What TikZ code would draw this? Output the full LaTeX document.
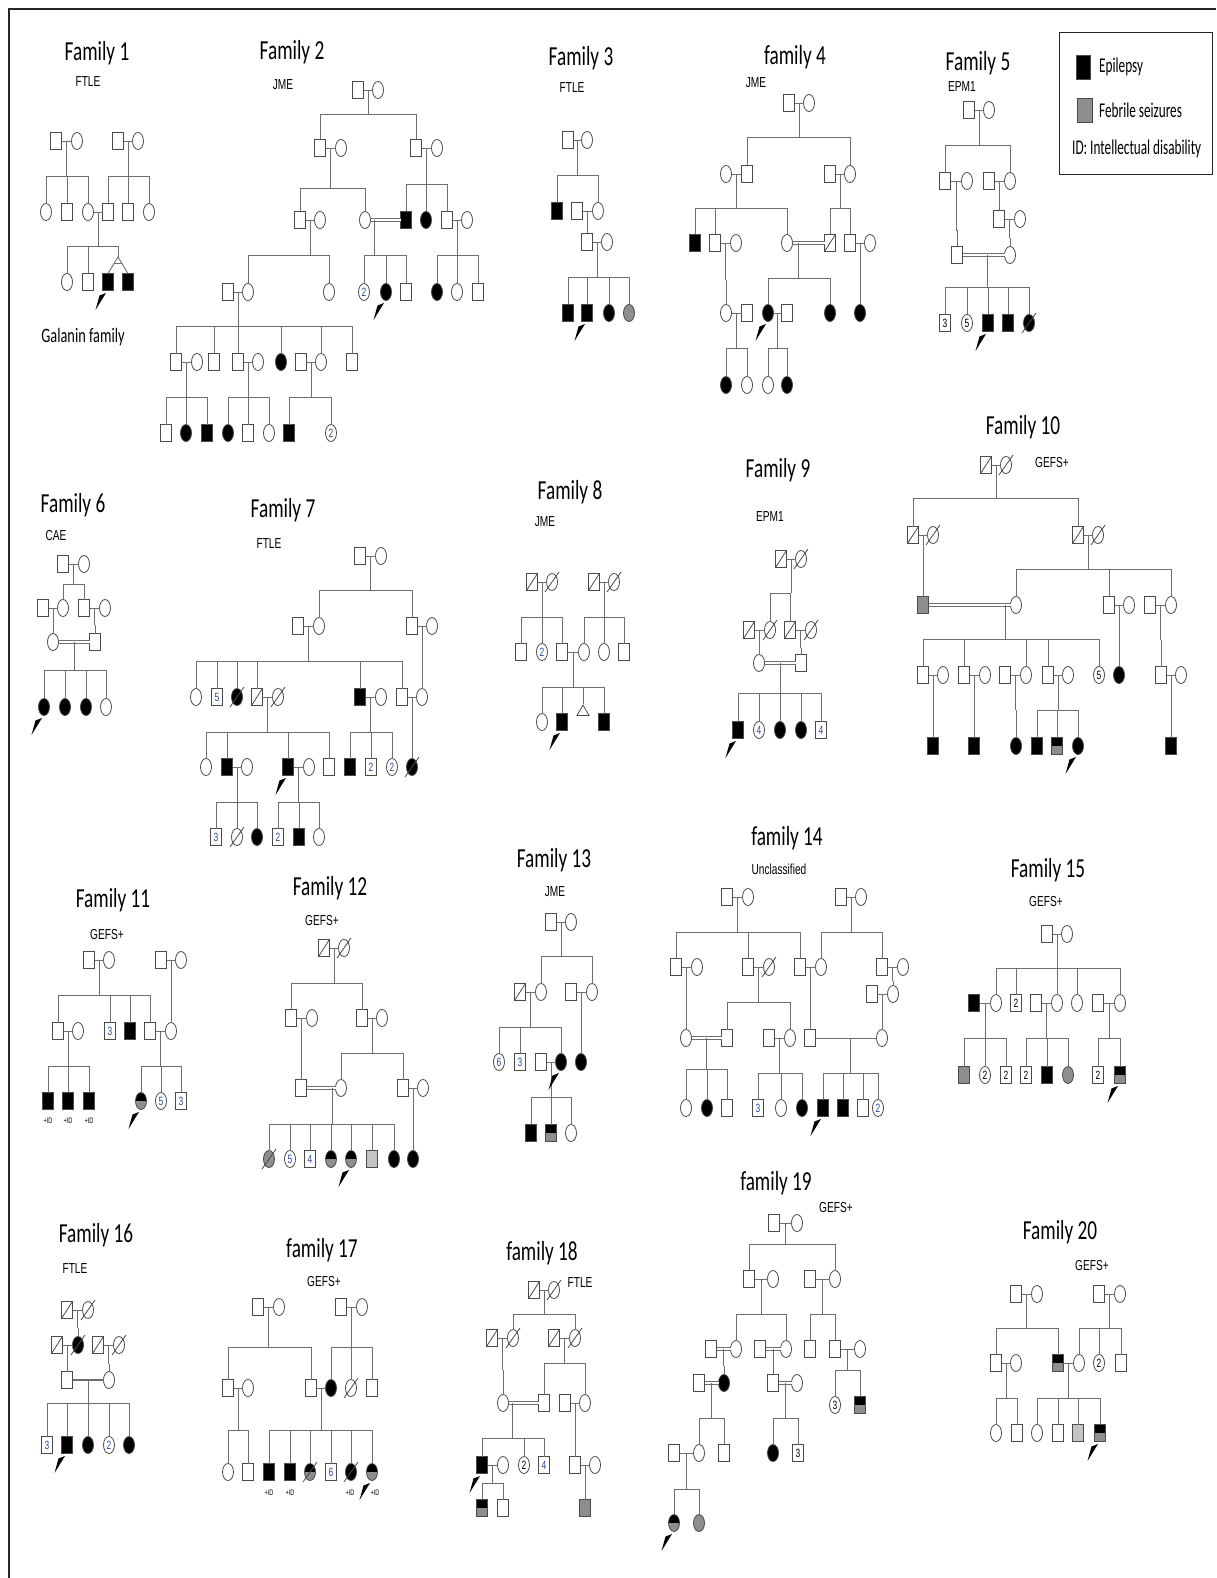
\documentclass[tikz,border=0pt]{standalone}
\usepackage{fontspec}
\setmainfont{Carlito}
\newfontfamily\ttlfont[FakeStretch=0.7]{Carlito}
\newfontfamily\legfont[FakeStretch=0.63]{Carlito}
\newfontfamily\subfnt[FakeStretch=0.7]{Liberation Sans}
\usetikzlibrary{calc,shapes.geometric}
\definecolor{lncol}{HTML}{6E6E6E}
\definecolor{symcol}{HTML}{4A4A4A}
\definecolor{fsgray}{HTML}{8E8E8E}
\definecolor{ltgray}{HTML}{C4C4C4}
\definecolor{numblue}{HTML}{2B4A9A}
\tikzset{
 ln/.style={draw=lncol,line width=0.9pt},
 dbl/.style={draw=lncol,line width=0.7pt,double=white,double distance=1.8pt},
 sym/.style={draw=symcol,line width=0.8pt,fill=white,inner sep=0pt,outer sep=0pt,
   minimum width=11pt,minimum height=17pt,font=\subfnt\fontsize{12}{12}\selectfont,text=numblue},
 male/.style={sym,rectangle},
 fem/.style={sym,ellipse},
 aff/.style={fill=black},
 febr/.style={fill=fsgray},
 lfebr/.style={fill=ltgray},
 numk/.style={text=black},
 halfaf/.style={path picture={
   \fill[fsgray] (path picture bounding box.south west) rectangle (path picture bounding box.east);
   \fill[black] (path picture bounding box.west) rectangle (path picture bounding box.north east);}},
 ttl/.style={font=\ttlfont\fontsize{27.5}{30}\selectfont,inner sep=0pt},
 sub/.style={font=\subfnt\fontsize{14.5}{15}\selectfont,inner sep=0pt},
 idl/.style={font=\subfnt\fontsize{8}{8}\selectfont,inner sep=0pt},
 legtxt/.style={font=\legfont\fontsize{21}{22}\selectfont,inner sep=0pt,anchor=west},
 tri/.style={draw=symcol,line width=0.8pt,fill=white,regular polygon,regular polygon sides=3,minimum size=14pt,inner sep=0pt}
}
\newcommand\kids[5][.5]{%
  \coordinate (dsc) at ($(#2)!#1!(#3)$);
  \draw[ln] (dsc) -- (dsc |- 0,#4);
  \foreach \c in {#5}{\draw[ln] (dsc |- 0,#4) -| (\c.north);}%
}
\newcommand\cpl[2]{\draw[ln] (#1) -- (#2);}
\newcommand\ccpl[2]{\draw[dbl] (#1) -- (#2);}
\newcommand\proband[1]{\fill[black] ($(#1.center)+(-2,11)$) -- ($(#1.center)+(-8.5,13.5)$) -- ($(#1.center)+(-12.5,28)$) -- cycle;}
\newcommand\deadm[1]{\draw[symcol,line width=0.8pt] (#1.south west) -- (#1.north east);}
\newcommand\deadf[1]{\draw[symcol,line width=0.8pt] ($(#1.center)+(-7,10)$) -- ($(#1.center)+(7,-10)$);}
\begin{document}
\begin{tikzpicture}[x=1pt,y=-1pt]
\fill[white] (0,0) rectangle (1216,1578);
\useasboundingbox (0,0) rectangle (1216,1578);
\draw[line width=2pt,black!85] (1216,9) -- (9,9) -- (9,1578);

% ---------------- Legend
\draw[line width=1pt,black!85] (1059,33) rectangle (1212,175);
\node[draw=symcol,fill=black,minimum width=14pt,minimum height=24pt,inner sep=0pt] (lg1) at (1083,67) {};
\node[draw=symcol,fill=fsgray,minimum width=15pt,minimum height=24pt,inner sep=0pt] (lg2) at (1085,110) {};
\node[legtxt] (lt1) at (1099,67) {Epilepsy};
\node[legtxt] (lt2) at (1099,110) {Febrile seizures};
\node[legtxt] (lt3) at (1072,149) {ID: Intellectual disability};

% ---------------- Family 1
\node[ttl] (t1) at (97,53) {Family 1};
\node[sub] (s1t) at (88,82) {FTLE};
\node[male] (a1) at (56,141) {}; \node[fem] (a2) at (77,141) {};
\node[male] (a3) at (118,141) {}; \node[fem] (a4) at (138,141) {};
\node[fem] (a5) at (46,212) {}; \node[male] (a6) at (67,212) {}; \node[fem] (a7) at (88,212) {};
\node[male] (a8) at (108,212) {}; \node[male] (a9) at (128,212) {}; \node[fem] (a10) at (149,212) {};
\node[fem] (a11) at (67,282) {}; \node[male] (a12) at (88,282) {};
\node[male,aff] (a13) at (108,282) {}; \node[male,aff] (a14) at (128,282) {};
\coordinate (a15) at (118,257);
\cpl{a1}{a2}\kids{a1}{a2}{176}{a5,a6,a7}
\cpl{a3}{a4}\kids{a3}{a4}{176}{a8,a9,a10}
\cpl{a7}{a8}\kids{a7}{a8}{246}{a11,a12}
\draw[ln] (dsc |- 0,246) -| (a15);
\draw[ln] (a13.north) -- (a15) -- (a14.north);
\draw[ln] ($(a15)!.42!(a13.north)$) -- ($(a15)!.42!(a14.north)$);
\proband{a13}
\node[font=\ttlfont\fontsize{20.5}{21}\selectfont,inner sep=0pt] (gal) at (83,337) {Galanin family};

% ---------------- Family 2
\node[ttl] (t2) at (292,52) {Family 2};
\node[sub] (s2t) at (283,85) {JME};
\node[male] (b1) at (358,90) {}; \node[fem] (b2) at (378,90) {};
\node[male] (b3) at (320,148) {}; \node[fem] (b4) at (341,148) {};
\node[male] (b5) at (416,148) {}; \node[fem] (b6) at (437,148) {};
\node[male] (b7) at (300,220) {}; \node[fem] (b8) at (320,220) {}; \node[fem] (b9) at (365,220) {};
\node[male,aff] (b10) at (406,220) {}; \node[fem,aff] (b11) at (426,220) {};
\node[male] (b12) at (447,220) {}; \node[fem] (b13) at (467,220) {};
\node[male] (b14) at (228,292) {}; \node[fem] (b15) at (248,292) {}; \node[fem] (b16) at (329,292) {};
\node[fem] (b17) at (364,292) {2}; \node[fem,aff] (b18) at (386,292) {}; \node[male] (b19) at (406,292) {};
\node[fem,aff] (b20) at (437,292) {}; \node[fem] (b21) at (457,292) {}; \node[male] (b22) at (478,292) {};
\node[male] (b23) at (176,362) {}; \node[fem] (b24) at (197,362) {}; \node[male] (b25) at (214,362) {};
\node[male] (b26) at (238,362) {}; \node[fem] (b27) at (258,362) {}; \node[fem,aff] (b28) at (281,362) {};
\node[male] (b29) at (301,362) {}; \node[fem] (b30) at (321,362) {}; \node[male] (b31) at (352,362) {};
\node[male] (b32) at (166,433) {}; \node[fem,aff] (b33) at (186,433) {}; \node[male,aff] (b34) at (207,433) {};
\node[fem,aff] (b35) at (228,433) {}; \node[male] (b36) at (248,433) {}; \node[fem] (b37) at (269,433) {};
\node[male,aff] (b38) at (289,433) {}; \node[fem] (b39) at (331,433) {2};
\cpl{b1}{b2}\kids{b1}{b2}{114}{b3,b5}
\cpl{b3}{b4}\kids{b3}{b4}{188}{b7,b9}
\cpl{b5}{b6}\kids{b5}{b6}{184}{b10,b11,b12}
\cpl{b7}{b8}\kids{b7}{b8}{255}{b15,b16}
\ccpl{b9}{b10}\kids[.24]{b9}{b10}{255}{b17,b18,b19}
\cpl{b12}{b13}\kids{b12}{b13}{255}{b20,b21,b22}
\cpl{b14}{b15}\kids{b14}{b15}{326}{b23,b25,b26,b28,b30,b31}
\cpl{b23}{b24}\kids{b23}{b24}{397}{b32,b33,b34}
\cpl{b26}{b27}\kids{b26}{b27}{397}{b35,b36,b37}
\cpl{b29}{b30}\kids{b29}{b30}{397}{b38,b39}
\proband{b18}

% ---------------- Family 3
\node[ttl] (t3) at (581,58) {Family 3};
\node[sub] (s3t) at (572,88) {FTLE};
\node[male] (c1) at (568,140) {}; \node[fem] (c2) at (587,140) {};
\node[male,aff] (c3) at (557,211) {}; \node[male] (c4) at (577,211) {}; \node[fem] (c5) at (598,211) {};
\node[male] (c6) at (587,242) {}; \node[fem] (c7) at (607,242) {};
\node[male,aff] (c8) at (568,313) {}; \node[male,aff] (c9) at (587,313) {};
\node[fem,aff] (c10) at (609,313) {}; \node[fem,febr] (c11) at (629,313) {};
\cpl{c1}{c2}\kids{c1}{c2}{175}{c3,c5}
\cpl{c4}{c5}\kids{c4}{c5}{228}{c6}
\cpl{c6}{c7}\kids{c6}{c7}{277}{c8,c9,c10,c11}
\proband{c9}

% ---------------- Family 4
\node[ttl] (t4) at (795,57) {family 4};
\node[sub] (s4t) at (756,83) {JME};
\node[male] (d1) at (789,103) {}; \node[fem] (d2) at (809,103) {};
\node[fem] (d3) at (726,174) {}; \node[male] (d4) at (747,174) {};
\node[male] (d5) at (830,174) {}; \node[fem] (d6) at (850,174) {};
\node[male,aff] (d7) at (695,243) {}; \node[male] (d8) at (715,243) {}; \node[fem] (d9) at (736,243) {};
\node[fem] (d10) at (787,243) {}; \node[male] (d11) at (830,243) {};
\node[male] (d12) at (850,243) {}; \node[fem] (d13) at (870,243) {};
\node[fem] (d14) at (726,313) {}; \node[male] (d15) at (747,313) {};
\node[fem,aff] (d16) at (768,313) {}; \node[male] (d17) at (787,313) {};
\node[fem,aff] (d18) at (830,313) {}; \node[fem,aff] (d19) at (860,313) {};
\node[fem,aff] (d20) at (726,385) {}; \node[fem] (d21) at (747,385) {};
\node[fem] (d22) at (768,385) {}; \node[fem,aff] (d23) at (787,385) {};
\deadm{d11}
\cpl{d1}{d2}\kids{d1}{d2}{137}{d4,d6}
\cpl{d3}{d4}\kids{d3}{d4}{208}{d7,d8,d10}
\cpl{d5}{d6}\kids{d5}{d6}{208}{d11,d12}
\cpl{d8}{d9}\kids{d8}{d9}{280}{d14}
\ccpl{d10}{d11}\kids[.26]{d10}{d11}{278}{d16,d18}
\cpl{d12}{d13}\kids{d12}{d13}{280}{d19}
\cpl{d14}{d15}\kids{d14}{d15}{348}{d20,d21}
\cpl{d16}{d17}\kids{d16}{d17}{348}{d22,d23}
\proband{d16}

% ---------------- Family 5
\node[ttl] (t5) at (978,63) {Family 5};
\node[sub] (s5t) at (962,87) {EPM1};
\node[male] (e1) at (969,110) {}; \node[fem] (e2) at (989,110) {};
\node[male] (e3) at (945,181) {}; \node[fem] (e4) at (967,181) {};
\node[male] (e5) at (989,181) {}; \node[fem] (e6) at (1010,181) {};
\node[male] (e7) at (999,219) {}; \node[fem] (e8) at (1020,219) {};
\node[male] (e9) at (957,255) {}; \node[fem] (e10) at (1010,255) {};
\node[male,numk] (e11) at (945,323) {3}; \node[fem,numk] (e12) at (967,323) {5};
\node[male,aff] (e13) at (988,323) {}; \node[male,aff] (e14) at (1008,323) {};
\node[fem,aff] (e15) at (1029,323) {};
\deadf{e15}
\cpl{e1}{e2}\kids{e1}{e2}{145}{e3,e6}
\cpl{e3}{e4}\kids{e3}{e4}{230}{e9}
\cpl{e5}{e6}\kids{e5}{e6}{203}{e7}
\cpl{e7}{e8}\kids{e7}{e8}{238}{e10}
\ccpl{e9}{e10}\kids[.58]{e9}{e10}{287}{e11,e12,e13,e14,e15}
\proband{e13}

% ---------------- Family 6
\node[ttl] (t6) at (73,505) {Family 6};
\node[sub] (s6t) at (56,536) {CAE};
\node[male] (g1) at (63,564) {}; \node[fem] (g2) at (84,564) {};
\node[male] (g3) at (43,608) {}; \node[fem] (g4) at (63,608) {};
\node[male] (g5) at (84,608) {}; \node[fem] (g6) at (105,608) {};
\node[fem] (g7) at (53,642) {}; \node[male] (g8) at (95,642) {};
\node[fem,aff] (g9) at (44,707) {}; \node[fem,aff] (g10) at (65,707) {};
\node[fem,aff] (g11) at (86,707) {}; \node[fem] (g12) at (106,707) {};
\cpl{g1}{g2}\kids{g1}{g2}{584}{g4,g5}
\cpl{g3}{g4}\kids{g3}{g4}{625}{g7}
\cpl{g5}{g6}\kids{g5}{g6}{625}{g8}
\ccpl{g7}{g8}\kids[.52]{g7}{g8}{670}{g9,g10,g11,g12}
\proband{g9}

% ---------------- Family 7
\node[ttl] (t7) at (283,510) {Family 7};
\node[sub] (s7t) at (269,544) {FTLE};
\node[male] (h1) at (360,556) {}; \node[fem] (h2) at (381,556) {};
\node[male] (h3) at (298,626) {}; \node[fem] (h4) at (319,626) {};
\node[male] (h5) at (412,626) {}; \node[fem] (h6) at (432,626) {};
\node[fem] (h7) at (196,697) {}; \node[male] (h8) at (217,697) {5};
\node[fem,aff] (h9) at (237,697) {}; \node[male] (h10) at (257,697) {}; \node[fem] (h11) at (278,697) {};
\node[male,aff] (h12) at (360,697) {}; \node[fem] (h13) at (381,697) {};
\node[male] (h14) at (402,697) {}; \node[fem] (h15) at (422,697) {};
\node[fem] (h16) at (206,767) {}; \node[male,aff] (h17) at (227,767) {}; \node[fem] (h18) at (247,767) {};
\node[male,aff] (h19) at (288,767) {}; \node[fem] (h20) at (309,767) {}; \node[male] (h21) at (329,767) {};
\node[male,aff] (h22) at (350,767) {}; \node[male] (h23) at (371,767) {2};
\node[fem] (h24) at (392,767) {2}; \node[fem,aff] (h25) at (412,767) {};
\node[male] (h26) at (216,837) {3}; \node[fem] (h27) at (237,837) {}; \node[fem,aff] (h28) at (257,837) {};
\node[male] (h29) at (278,837) {2}; \node[male,aff] (h30) at (299,837) {}; \node[fem] (h31) at (319,837) {};
\deadf{h9}\deadm{h10}\deadf{h11}\deadf{h25}\deadf{h27}
\cpl{h1}{h2}\kids{h1}{h2}{590}{h4,h5}
\cpl{h3}{h4}\kids{h3}{h4}{661}{h7,h8,h9,h10,h12,h14}
\cpl{h5}{h6}\kids{h5}{h6}{670}{h15}
\cpl{h10}{h11}\kids{h10}{h11}{732}{h16,h17,h19,h21}
\cpl{h12}{h13}\kids{h12}{h13}{732}{h22,h23,h24}
\cpl{h14}{h15}\kids{h14}{h15}{740}{h25}
\cpl{h17}{h18}\kids{h17}{h18}{802}{h26,h27,h28}
\cpl{h19}{h20}\kids{h19}{h20}{802}{h29,h30,h31}
\proband{h19}

% ---------------- Family 8
\node[ttl] (t8) at (570,492) {Family 8};
\node[sub] (s8t) at (545,522) {JME};
\node[male] (i1) at (532,582) {}; \node[fem] (i2) at (552,582) {};
\node[male] (i3) at (594,582) {}; \node[fem] (i4) at (614,582) {};
\node[male] (i5) at (521,652) {}; \node[fem] (i6) at (542,652) {2}; \node[male] (i7) at (562,652) {};
\node[fem] (i8) at (584,652) {}; \node[fem] (i9) at (604,652) {}; \node[male] (i10) at (624,652) {};
\node[fem] (i11) at (542,722) {}; \node[male,aff] (i12) at (562,722) {};
\node[tri] (i13) at (583,712) {}; \node[male,aff] (i14) at (604,722) {};
\deadm{i1}\deadf{i2}\deadm{i3}\deadf{i4}
\cpl{i1}{i2}\kids{i1}{i2}{617}{i5,i6,i7}
\cpl{i3}{i4}\kids{i3}{i4}{617}{i8,i9,i10}
\cpl{i7}{i8}\kids{i7}{i8}{687}{i11,i12,i13,i14}
\proband{i12}

% ---------------- Family 9
\node[ttl] (t9) at (778,470) {Family 9};
\node[sub] (s9t) at (770,517) {EPM1};
\node[male] (j1) at (781,559) {}; \node[fem] (j2) at (801,559) {};
\node[male] (j3) at (749,630) {}; \node[fem] (j4) at (770,630) {};
\node[male] (j5) at (790,630) {}; \node[fem] (j6) at (811,630) {};
\node[fem] (j7) at (759,663) {}; \node[male] (j8) at (801,663) {};
\node[male,aff] (j9) at (738,730) {}; \node[fem] (j10) at (759,730) {4};
\node[fem,aff] (j11) at (780,730) {}; \node[fem,aff] (j12) at (801,730) {};
\node[male] (j13) at (821,730) {4};
\deadm{j1}\deadf{j2}\deadm{j3}\deadf{j4}\deadm{j5}\deadf{j6}
\cpl{j1}{j2}\kids{j1}{j2}{593}{j4,j5}
\cpl{j3}{j4}\kids{j3}{j4}{648}{j7}
\cpl{j5}{j6}\kids{j5}{j6}{648}{j8}
\ccpl{j7}{j8}\kids{j7}{j8}{693}{j9,j10,j11,j12,j13}
\proband{j9}

% ---------------- Family 10
\node[ttl] (t10) at (1023,427) {Family 10};
\node[sub] (s10t) at (1052,463) {GEFS+};
\node[male] (k1) at (986,465) {}; \node[fem] (k2) at (1006,465) {};
\node[male] (k3) at (913,535) {}; \node[fem] (k4) at (933,535) {};
\node[male] (k5) at (1078,535) {}; \node[fem] (k6) at (1098,535) {};
\node[male,febr] (k7) at (923,605) {}; \node[fem] (k8) at (1016,605) {};
\node[male] (k9) at (1109,605) {}; \node[fem] (k10) at (1129,605) {};
\node[male] (k11) at (1150,605) {}; \node[fem] (k12) at (1171,605) {};
\node[male] (k13) at (923,675) {}; \node[fem] (k14) at (943,675) {};
\node[male] (k15) at (964,675) {}; \node[fem] (k16) at (985,675) {};
\node[male] (k17) at (1005,675) {}; \node[fem] (k18) at (1026,675) {};
\node[male] (k19) at (1048,675) {}; \node[fem] (k20) at (1068,675) {};
\node[fem,numk] (k21) at (1099,675) {5}; \node[fem,aff] (k22) at (1119,675) {};
\node[male] (k23) at (1161,675) {}; \node[fem] (k24) at (1181,675) {};
\node[male,aff] (k25) at (933,746) {}; \node[male,aff] (k26) at (974,746) {};
\node[fem,aff] (k27) at (1016,746) {}; \node[male,aff] (k28) at (1037,746) {};
\node[male,halfaf] (k29) at (1057,746) {}; \node[fem,aff] (k30) at (1078,746) {};
\node[male,aff] (k31) at (1171,746) {};
\deadm{k1}\deadf{k2}\deadm{k3}\deadf{k4}\deadm{k5}\deadf{k6}
\cpl{k1}{k2}\kids{k1}{k2}{498}{k3,k5}
\cpl{k3}{k4}\kids{k3}{k4}{570}{k7}
\cpl{k5}{k6}\kids{k5}{k6}{569}{k8,k9,k12}
\ccpl{k7}{k8}\kids[.89]{k7}{k8}{639}{k13,k15,k18,k19,k21}
\cpl{k9}{k10}\kids{k9}{k10}{640}{k22}
\cpl{k11}{k12}\kids{k11}{k12}{640}{k23}
\cpl{k13}{k14}\kids{k13}{k14}{710}{k25}
\cpl{k15}{k16}\kids{k15}{k16}{710}{k26}
\cpl{k17}{k18}\kids{k17}{k18}{710}{k27}
\cpl{k19}{k20}\kids{k19}{k20}{710}{k28,k29,k30}
\cpl{k23}{k24}\kids{k23}{k24}{710}{k31}
\proband{k30}

% ---------------- Family 11
\node[ttl] (t11) at (113,900) {Family 11};
\node[sub] (s11t) at (107,934) {GEFS+};
\node[male] (l1) at (89,960) {}; \node[fem] (l2) at (109,960) {};
\node[male] (l3) at (161,960) {}; \node[fem] (l4) at (181,960) {};
\node[male] (l5) at (58,1031) {}; \node[fem] (l6) at (78,1031) {};
\node[male] (l7) at (110,1031) {3}; \node[male,aff] (l8) at (130,1031) {};
\node[male] (l9) at (150,1031) {}; \node[fem] (l10) at (171,1031) {};
\node[male,aff] (l11) at (48,1101) {}; \node[male,aff] (l12) at (68,1101) {}; \node[male,aff] (l13) at (89,1101) {};
\node[fem,halfaf] (l14) at (141,1101) {}; \node[fem] (l15) at (161,1101) {5}; \node[male] (l16) at (181,1101) {3};
\node[idl] (l17) at (48,1121) {+ID}; \node[idl] (l18) at (68,1121) {+ID}; \node[idl] (l19) at (89,1121) {+ID};
\cpl{l1}{l2}\kids{l1}{l2}{995}{l5,l7,l8,l9}
\cpl{l3}{l4}\kids{l3}{l4}{1000}{l10}
\cpl{l5}{l6}\kids{l5}{l6}{1066}{l11,l12,l13}
\cpl{l9}{l10}\kids{l9}{l10}{1066}{l14,l15,l16}
\proband{l14}

% ---------------- Family 12
\node[ttl] (t12) at (330,888) {Family 12};
\node[sub] (s12t) at (322,920) {GEFS+};
\node[male] (m1) at (324,948) {}; \node[fem] (m2) at (344,948) {};
\node[male] (m3) at (291,1018) {}; \node[fem] (m4) at (312,1018) {};
\node[male] (m5) at (362,1018) {}; \node[fem] (m6) at (382,1018) {};
\node[male] (m7) at (301,1088) {}; \node[fem] (m8) at (341,1088) {};
\node[male] (m9) at (403,1088) {}; \node[fem] (m10) at (423,1088) {};
\node[fem,febr] (m11) at (269,1159) {}; \node[fem] (m12) at (290,1159) {5}; \node[male] (m13) at (310,1159) {4};
\node[fem,halfaf] (m14) at (331,1159) {}; \node[fem,halfaf] (m15) at (351,1159) {};
\node[male,lfebr] (m16) at (372,1159) {}; \node[fem,aff] (m17) at (394,1159) {}; \node[fem,aff] (m18) at (413,1159) {};
\deadm{m1}\deadf{m2}\deadf{m11}
\cpl{m1}{m2}\kids{m1}{m2}{983}{m3,m5}
\cpl{m3}{m4}\kids{m3}{m4}{1050}{m7}
\cpl{m5}{m6}\kids{m5}{m6}{1053}{m8,m9}
\ccpl{m7}{m8}\kids[.78]{m7}{m8}{1124}{m11,m12,m13,m14,m15,m16,m17}
\cpl{m9}{m10}\kids{m9}{m10}{1124}{m18}
\proband{m15}

% ---------------- Family 13
\node[ttl] (t13) at (554,860) {Family 13};
\node[sub] (s13t) at (555,892) {JME};
\node[male] (n1) at (551,922) {}; \node[fem] (n2) at (571,922) {};
\node[male] (n3) at (520,992) {}; \node[fem] (n4) at (541,992) {};
\node[male] (n5) at (571,992) {}; \node[fem] (n6) at (592,992) {};
\node[fem] (n7) at (499,1062) {6}; \node[male] (n8) at (520,1062) {3}; \node[male] (n9) at (541,1062) {};
\node[fem,aff] (n10) at (561,1062) {}; \node[fem,aff] (n11) at (581,1062) {};
\node[male,aff] (n12) at (531,1133) {}; \node[male,halfaf] (n13) at (551,1133) {}; \node[fem] (n14) at (571,1133) {};
\deadm{n3}
\cpl{n1}{n2}\kids{n1}{n2}{956}{n4,n6}
\cpl{n3}{n4}\kids{n3}{n4}{1027}{n7,n8,n10}
\cpl{n5}{n6}\kids{n5}{n6}{1030}{n11}
\cpl{n9}{n10}\kids{n9}{n10}{1097}{n12,n13,n14}
\proband{n10}

% ---------------- Family 14
\node[ttl] (t14) at (787,838) {family 14};
\node[sub] (s14t) at (779,869) {Unclassified};
\node[male] (o1) at (727,897) {}; \node[fem] (o2) at (748,897) {};
\node[male] (o3) at (841,897) {}; \node[fem] (o4) at (861,897) {};
\node[male] (o5) at (676,967) {}; \node[fem] (o6) at (697,967) {};
\node[male] (o7) at (748,967) {}; \node[fem] (o8) at (769,967) {};
\node[male] (o9) at (800,967) {}; \node[fem] (o10) at (821,967) {};
\node[male] (o11) at (882,967) {}; \node[fem] (o12) at (903,967) {};
\node[male] (o13) at (872,994) {}; \node[fem] (o14) at (893,994) {};
\node[fem] (o15) at (686,1038) {}; \node[male] (o16) at (727,1038) {};
\node[male] (o17) at (769,1038) {}; \node[fem] (o18) at (790,1038) {};
\node[male] (o19) at (810,1038) {}; \node[fem] (o20) at (882,1038) {};
\node[fem] (o21) at (686,1108) {}; \node[fem,aff] (o22) at (707,1108) {}; \node[male] (o23) at (727,1108) {};
\node[male] (o24) at (758,1108) {3}; \node[fem] (o25) at (781,1108) {}; \node[fem,aff] (o26) at (802,1108) {};
\node[male,aff] (o27) at (823,1108) {}; \node[male,aff] (o28) at (843,1108) {};
\node[male] (o29) at (863,1108) {}; \node[fem] (o30) at (878,1108) {2};
\deadf{o8}
\cpl{o1}{o2}\kids{o1}{o2}{932}{o5,o7,o9}
\cpl{o3}{o4}\kids{o3}{o4}{932}{o10,o11}
\cpl{o5}{o6}\kids{o5}{o6}{1000}{o15}
\cpl{o7}{o8}\kids{o7}{o8}{1002}{o16,o18}
\cpl{o9}{o10}\kids{o9}{o10}{1000}{o19}
\cpl{o11}{o12}\kids{o11}{o12}{981}{o14}
\cpl{o13}{o14}\kids{o13}{o14}{1015}{o20}
\ccpl{o15}{o16}\kids{o15}{o16}{1069}{o21,o22,o23}
\cpl{o17}{o18}\kids{o17}{o18}{1073}{o24,o25,o26}
\cpl{o19}{o20}\kids[.56]{o19}{o20}{1073}{o27,o28,o29,o30}
\proband{o27}

% ---------------- Family 15
\node[ttl] (t15) at (1048,870) {Family 15};
\node[sub] (s15t) at (1046,901) {GEFS+};
\node[male] (p1) at (1047,934) {}; \node[fem] (p2) at (1067,934) {};
\node[male,aff] (p3) at (974,1003) {}; \node[fem] (p4) at (996,1003) {};
\node[male,numk] (p5) at (1016,1003) {2}; \node[male] (p6) at (1036,1003) {};
\node[fem] (p7) at (1057,1003) {}; \node[fem] (p8) at (1077,1003) {};
\node[male] (p9) at (1098,1003) {}; \node[fem] (p10) at (1120,1003) {};
\node[male,febr] (p11) at (964,1075) {}; \node[fem,numk] (p12) at (985,1075) {2}; \node[male,numk] (p13) at (1006,1075) {2};
\node[male,numk] (p14) at (1026,1075) {2}; \node[male,aff] (p15) at (1047,1075) {}; \node[fem,febr] (p16) at (1068,1075) {};
\node[male,numk] (p17) at (1098,1075) {2}; \node[male,halfaf] (p18) at (1120,1075) {};
\cpl{p1}{p2}\kids{p1}{p2}{968}{p4,p5,p7,p8,p10}
\cpl{p3}{p4}\kids{p3}{p4}{1038}{p11,p12,p13}
\cpl{p6}{p7}\kids{p6}{p7}{1038}{p14,p15,p16}
\cpl{p9}{p10}\kids{p9}{p10}{1038}{p17,p18}
\proband{p18}

% ---------------- Family 16
\node[ttl] (t16) at (96,1235) {Family 16};
\node[sub] (s16t) at (75,1268) {FTLE};
\node[male] (q1) at (67,1310) {}; \node[fem] (q2) at (88,1310) {};
\node[male] (q3) at (57,1345) {}; \node[fem,aff] (q4) at (78,1345) {};
\node[male] (q5) at (98,1345) {}; \node[fem] (q6) at (119,1345) {};
\node[male] (q7) at (67,1380) {}; \node[fem] (q8) at (109,1380) {};
\node[male] (q9) at (47,1445) {3}; \node[male,aff] (q10) at (67,1445) {}; \node[fem,aff] (q11) at (88,1445) {};
\node[fem] (q12) at (109,1445) {2}; \node[fem,aff] (q13) at (129,1445) {};
\deadm{q1}\deadf{q2}\deadm{q3}\deadf{q4}\deadm{q5}\deadf{q6}
\cpl{q1}{q2}\kids{q1}{q2}{1328}{q4}
\cpl{q3}{q4}\kids{q3}{q4}{1364}{q7}
\cpl{q5}{q6}\kids{q5}{q6}{1364}{q8}
\draw[draw=lncol,line width=1.8pt] (q7) -- (q8);
\kids{q7}{q8}{1403}{q9,q10,q11,q12,q13}
\proband{q10}

% ---------------- Family 17
\node[ttl] (t17) at (322,1250) {family 17};
\node[sub] (s17t) at (324,1281) {GEFS+};
\node[male] (r1) at (258,1307) {}; \node[fem] (r2) at (279,1307) {};
\node[male] (r3) at (341,1307) {}; \node[fem] (r4) at (362,1307) {};
\node[male] (r5) at (228,1388) {}; \node[fem] (r6) at (248,1388) {};
\node[male] (r7) at (311,1388) {}; \node[fem,aff] (r8) at (331,1388) {};
\node[fem] (r9) at (351,1388) {}; \node[male] (r10) at (372,1388) {};
\node[fem] (r11) at (228,1472) {}; \node[male] (r12) at (248,1472) {};
\node[male,aff] (r13) at (269,1472) {}; \node[male,aff] (r14) at (290,1472) {};
\node[fem,halfaf] (r15) at (310,1472) {}; \node[male] (r16) at (331,1472) {6};
\node[fem,aff] (r17) at (351,1472) {}; \node[fem,halfaf] (r18) at (372,1472) {};
\node[idl] (r19) at (269,1493) {+ID}; \node[idl] (r20) at (290,1493) {+ID};
\node[idl] (r21) at (350,1493) {+ID}; \node[idl] (r22) at (375,1493) {+ID};
\deadf{r9}\deadf{r15}\deadf{r17}
\cpl{r1}{r2}\kids{r1}{r2}{1347}{r5,r7}
\cpl{r3}{r4}\kids{r3}{r4}{1347}{r8,r9,r10}
\cpl{r5}{r6}\kids{r5}{r6}{1430}{r11,r12}
\cpl{r7}{r8}\kids{r7}{r8}{1430}{r13,r14,r15,r16,r17,r18}
\proband{r18}

% ---------------- Family 18
\node[ttl] (t18) at (542,1253) {family 18};
\node[sub] (s18t) at (580,1282) {FTLE};
\node[male] (s1) at (534,1290) {}; \node[fem] (s2) at (554,1290) {};
\node[male] (s3) at (492,1338) {}; \node[fem] (s4) at (513,1338) {};
\node[male] (s5) at (554,1338) {}; \node[fem] (s6) at (575,1338) {};
\node[fem] (s7) at (503,1403) {}; \node[male] (s8) at (544,1403) {};
\node[male] (s9) at (565,1403) {}; \node[fem] (s10) at (585,1403) {};
\node[male,aff] (s11) at (482,1465) {}; \node[fem] (s12) at (503,1465) {};
\node[fem,numk] (s13) at (524,1465) {2}; \node[male] (s14) at (544,1465) {4};
\node[male] (s15) at (575,1465) {}; \node[fem] (s16) at (595,1465) {};
\node[male,halfaf] (s17) at (482,1508) {}; \node[male] (s18) at (503,1508) {};
\node[male,febr] (s19) at (585,1508) {};
\deadm{s1}\deadf{s2}\deadm{s3}\deadf{s4}\deadm{s5}\deadf{s6}
\cpl{s1}{s2}\kids{s1}{s2}{1314}{s4,s6}
\cpl{s3}{s4}\kids{s3}{s4}{1370}{s7}
\cpl{s5}{s6}\kids{s5}{s6}{1363}{s8,s10}
\ccpl{s7}{s8}\kids[.24]{s7}{s8}{1438}{s11,s13,s14}
\cpl{s9}{s10}\kids{s9}{s10}{1430}{s15}
\cpl{s11}{s12}\kids{s11}{s12}{1483}{s17,s18}
\cpl{s15}{s16}\kids{s15}{s16}{1483}{s19}
\proband{s11}

% ---------------- Family 19
\node[ttl] (t19) at (776,1183) {family 19};
\node[sub] (s19t) at (836,1207) {GEFS+};
\node[male] (u1) at (774,1223) {}; \node[fem] (u2) at (797,1223) {};
\node[male] (u3) at (749,1279) {}; \node[fem] (u4) at (773,1279) {};
\node[male] (u5) at (810,1279) {}; \node[fem] (u6) at (835,1279) {};
\node[male] (u7) at (711,1349) {}; \node[fem] (u8) at (736,1349) {};
\node[male] (u9) at (760,1349) {}; \node[fem] (u10) at (786,1349) {};
\node[male] (u11) at (810,1349) {}; \node[male] (u12) at (835,1349) {}; \node[fem] (u13) at (860,1349) {};
\node[male] (u14) at (699,1383) {}; \node[fem,aff] (u15) at (724,1383) {};
\node[male] (u16) at (773,1383) {}; \node[fem] (u17) at (797,1383) {};
\node[fem,numk] (u18) at (835,1405) {3}; \node[male,halfaf] (u19) at (860,1405) {};
\node[male] (u20) at (674,1453) {}; \node[fem] (u21) at (699,1453) {}; \node[male] (u22) at (724,1453) {};
\node[fem,aff] (u23) at (773,1453) {}; \node[male,numk] (u24) at (798,1453) {3};
\node[fem,halfaf] (u25) at (674,1523) {}; \node[fem,febr] (u26) at (699,1523) {};
\cpl{u1}{u2}\kids{u1}{u2}{1244}{u3,u6}
\cpl{u3}{u4}\kids{u3}{u4}{1314}{u8,u10}
\cpl{u5}{u6}\kids{u5}{u6}{1314}{u11,u12}
\ccpl{u7}{u8}\kids{u7}{u8}{1366}{u15}
\ccpl{u9}{u10}\kids{u9}{u10}{1366}{u16}
\cpl{u12}{u13}\kids{u12}{u13}{1370}{u18,u19}
\ccpl{u14}{u15}\kids{u14}{u15}{1418}{u21,u22}
\ccpl{u16}{u17}\kids{u16}{u17}{1418}{u23,u24}
\cpl{u20}{u21}\kids{u20}{u21}{1489}{u25,u26}
\proband{u25}

% ---------------- Family 20
\node[ttl] (t20) at (1060,1232) {Family 20};
\node[sub] (s20t) at (1092,1265) {GEFS+};
\node[male] (v1) at (1016,1294) {}; \node[fem] (v2) at (1037,1294) {};
\node[male] (v3) at (1099,1294) {}; \node[fem] (v4) at (1120,1294) {};
\node[male] (v5) at (996,1363) {}; \node[fem] (v6) at (1016,1363) {};
\node[male,halfaf] (v7) at (1058,1363) {}; \node[fem] (v8) at (1079,1363) {};
\node[fem,numk] (v9) at (1099,1363) {2}; \node[male] (v10) at (1121,1363) {};
\node[fem] (v11) at (996,1433) {}; \node[male] (v12) at (1017,1433) {};
\node[fem] (v13) at (1037,1433) {}; \node[male] (v14) at (1058,1433) {};
\node[male,lfebr] (v15) at (1078,1433) {}; \node[male,halfaf] (v16) at (1100,1433) {};
\cpl{v1}{v2}\kids{v1}{v2}{1328}{v5,v7}
\cpl{v3}{v4}\kids{v3}{v4}{1328}{v8,v9,v10}
\cpl{v5}{v6}\kids{v5}{v6}{1398}{v11,v12}
\cpl{v7}{v8}\kids{v7}{v8}{1398}{v13,v14,v15,v16}
\proband{v16}
\end{tikzpicture}
\end{document}
